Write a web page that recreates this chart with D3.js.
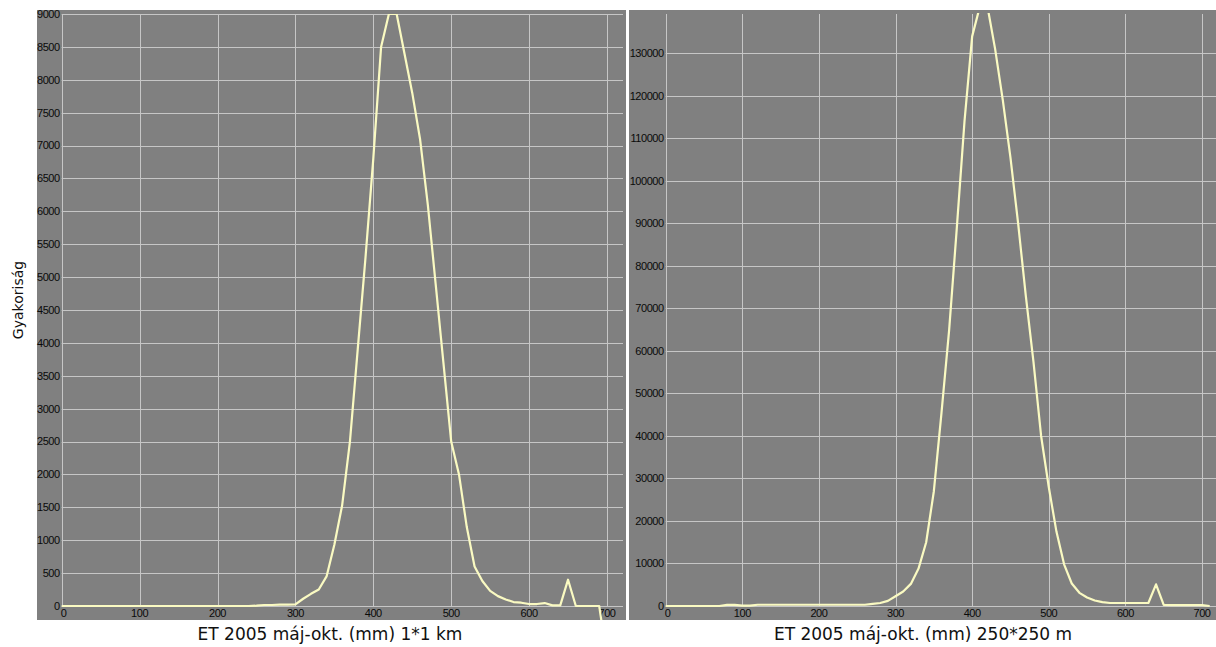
<!DOCTYPE html>
<html>
<head>
<meta charset="utf-8">
<script src="https://cdn.jsdelivr.net/npm/d3@7"></script>
<style>
  html, body { margin: 0; padding: 0; background: #ffffff; }
  svg { display: block; }
</style>
</head>
<body>
<svg id="chart" width="1216" height="647"></svg>
<script>
// ET 2005 May–October histogram, 1*1 km grid
const etMm1km = [0,10,20,30,40,50,60,70,80,90,100,110,120,130,140,150,160,170,180,190,200,210,220,230,240,
  250,260,270,280,290,300,310,320,330,340,350,360,370,380,390,400,410,420,430,440,450,460,470,480,490,
  500,510,520,530,540,550,560,570,580,590,600,610,620,630,640,650,660,670,680,690,695];
const freq1km = [0,0,0,0,0,0,0,0,0,0,0,0,0,0,0,0,0,0,0,0,0,0,0,0,0,
  5,15,15,20,20,25,110,185,250,450,930,1530,2500,3900,5300,6800,8500,9000,9000,8400,7800,7100,6100,4900,3700,
  2500,2000,1200,600,380,230,150,100,60,50,30,30,45,10,10,400,0,0,0,0,-400];

// ET 2005 May–October histogram, 250*250 m grid
const etMm250m = [0,10,20,30,40,50,60,70,80,90,100,110,120,130,140,150,160,170,180,190,200,210,220,230,240,
  250,260,270,280,290,300,310,320,330,340,350,360,370,380,390,400,410,420,430,440,450,460,470,480,490,
  500,510,520,530,540,550,560,570,580,590,600,610,620,630,640,650,660,670,680,690,700,710];
const freq250m = [0,0,0,0,0,0,0,0,250,250,100,100,300,300,300,300,300,300,300,300,300,300,300,300,300,
  300,300,500,700,1200,2300,3400,5200,8800,15000,27000,45500,65000,89000,114000,134000,141000,141000,131000,119000,105500,90000,73000,57500,40000,
  28000,17500,9800,5300,3100,2000,1300,900,700,700,700,700,700,700,5100,250,200,200,200,200,200,0];

// Axis ticks and titles
const xTicks = [0,100,200,300,400,500,600,700];
const yTicks1km = [0,500,1000,1500,2000,2500,3000,3500,4000,4500,5000,5500,6000,6500,7000,7500,8000,8500,9000];
const yTicks250m = [0,10000,20000,30000,40000,50000,60000,70000,80000,90000,100000,110000,120000,130000];
const xTitles = ["ET 2005 máj-okt. (mm) 1*1 km", "ET 2005 máj-okt. (mm) 250*250 m"];
const yTitle = "Gyakoriság";

const svg = d3.select("#chart");
const GRID = "#c6c6c6";
const PANEL = "#808080";
const LINE = "#fafac2";
const TICK_FONT = "'Liberation Sans', Arial, sans-serif";

function drawPanel(p, idx) {
  const g = svg.append("g");
  g.append("rect")
    .attr("x", p.left).attr("y", p.top)
    .attr("width", p.right - p.left).attr("height", p.bottom - p.top)
    .attr("fill", PANEL);

  const x = d3.scaleLinear().domain([0, 700]).range([p.x0, p.x700]);
  const y = d3.scaleLinear().domain([0, p.yMax]).range([p.y0, p.yTop]);

  // horizontal grid
  g.append("g").selectAll("line").data(p.yTicks).join("line")
    .attr("x1", p.x0).attr("x2", p.plotRight)
    .attr("y1", d => Math.round(y(d)) + 0.5).attr("y2", d => Math.round(y(d)) + 0.5)
    .attr("stroke", GRID).attr("stroke-width", 1);

  // vertical grid
  g.append("g").selectAll("line").data(xTicks).join("line")
    .attr("x1", d => Math.round(x(d)) + 0.5).attr("x2", d => Math.round(x(d)) + 0.5)
    .attr("y1", p.yTop + 1).attr("y2", p.y0)
    .attr("stroke", GRID).attr("stroke-width", 1);

  // y tick labels
  g.append("g").selectAll("text").data(p.yTicks).join("text")
    .attr("x", p.x0 - 2)
    .attr("y", d => y(d))
    .attr("dy", "0.35em")
    .attr("text-anchor", "end")
    .attr("font-family", TICK_FONT)
    .attr("font-size", "11px")
    .attr("letter-spacing", "-0.45px")
    .attr("fill", "#0a0a0a")
    .text(d => d);

  // x tick labels
  g.append("g").selectAll("text").data(xTicks).join("text")
    .attr("x", d => x(d) + (d === 0 ? 2 : 0))
    .attr("y", p.y0 + 11)
    .attr("text-anchor", "middle")
    .attr("font-family", TICK_FONT)
    .attr("font-size", "11px")
    .attr("letter-spacing", "-0.45px")
    .attr("fill", "#0a0a0a")
    .text(d => d);

  // frequency curve, clipped to the panel below the top grid line
  const clipId = "clip" + idx;
  svg.append("clipPath").attr("id", clipId)
    .append("rect")
    .attr("x", p.left).attr("y", p.yTop)
    .attr("width", p.right - p.left).attr("height", p.bottom - p.yTop);

  const pts = p.xs.map((v, i) => [v, p.ys[i]]);
  g.append("path")
    .datum(pts)
    .attr("clip-path", `url(#${clipId})`)
    .attr("fill", "none")
    .attr("stroke", LINE)
    .attr("stroke-width", 2.2)
    .attr("stroke-linejoin", "round")
    .attr("d", d3.line().x(d => x(d[0])).y(d => y(d[1])));

  // x axis title
  svg.append("text")
    .attr("x", p.titleX).attr("y", 640)
    .attr("text-anchor", "middle")
    .attr("font-family", "'DejaVu Sans', Verdana, sans-serif")
    .attr("font-size", "17px")
    .attr("fill", "#111")
    .text(xTitles[idx]);
}

drawPanel({
  left: 37, right: 626, top: 10, bottom: 620,
  x0: 61.7, x700: 607, plotRight: 623,
  y0: 606, yTop: 14, yMax: 9000,
  yTicks: yTicks1km, xs: etMm1km, ys: freq1km, titleX: 330
}, 0);

drawPanel({
  left: 629, right: 1216, top: 10, bottom: 620,
  x0: 665.7, x700: 1202, plotRight: 1216,
  y0: 606, yTop: 13, yMax: 139500,
  yTicks: yTicks250m, xs: etMm250m, ys: freq250m, titleX: 923
}, 1);

// y axis title
svg.append("text")
  .attr("transform", "translate(23,300) rotate(-90)")
  .attr("text-anchor", "middle")
  .attr("font-family", "'DejaVu Sans', Verdana, sans-serif")
  .attr("font-size", "14px")
  .attr("fill", "#111")
  .text(yTitle);
</script>
</body>
</html>
